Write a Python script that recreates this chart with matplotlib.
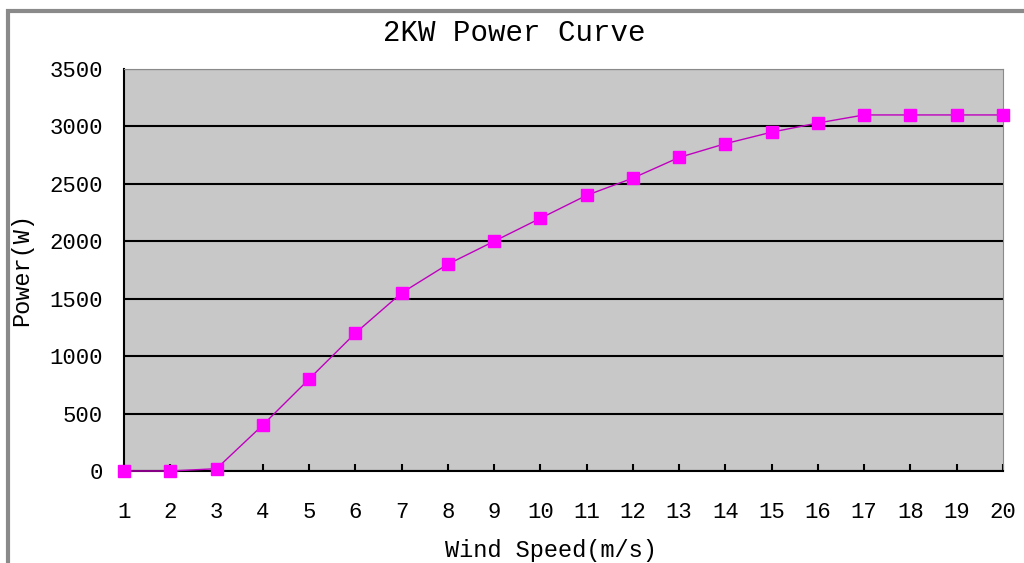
import matplotlib
matplotlib.use("Agg")
import matplotlib.pyplot as plt
from matplotlib.patches import Rectangle

# wind speed (m/s) and power output (W)
wind_speed = [1, 2, 3, 4, 5, 6, 7, 8, 9, 10, 11, 12, 13, 14, 15, 16, 17, 18, 19, 20]
power = [0, 0, 20, 400, 800, 1200, 1550, 1800, 2000, 2200, 2400, 2550, 2730, 2850,
         2950, 3030, 3100, 3100, 3100, 3100]
y_ticks = [0, 500, 1000, 1500, 2000, 2500, 3000, 3500]

FONT = "Liberation Mono"

fig = plt.figure(figsize=(10.24, 5.63), dpi=100)
fig.patch.set_facecolor("white")

# outer chart frame (runs off the right and bottom edges)
fig.patches.append(Rectangle((8 / 1024, -0.2), 1.2, 1 - 11 / 563 + 0.2,
                             transform=fig.transFigure, fill=False,
                             edgecolor="#8a8a8a", linewidth=3, zorder=0))

ax = fig.add_axes([124 / 1024, 1 - 471 / 563, (1003 - 124) / 1024, (471 - 69) / 563])
ax.set_facecolor("#c8c8c8")

ax.plot(wind_speed, power, color="#c000c0", linewidth=1, marker="s",
        markersize=8, markerfacecolor="#ff00ff", markeredgecolor="#ff00ff",
        clip_on=False, zorder=3)

ax.set_xlim(1, 20)
ax.set_ylim(0, 3500)
ax.set_xticks(wind_speed)
ax.set_yticks(y_ticks)
ax.yaxis.grid(True, color="black", linewidth=1.5)
ax.set_axisbelow(True)

ax.tick_params(axis="x", direction="in", length=5, width=1.5, pad=22,
               labelsize=16)
ax.tick_params(axis="y", length=0, pad=15, labelsize=16)
for lab in ax.get_xticklabels() + ax.get_yticklabels():
    lab.set_fontfamily(FONT)

ax.spines["left"].set_linewidth(1.5)
ax.spines["bottom"].set_linewidth(1.5)
ax.spines["top"].set_color("#8a8a8a")
ax.spines["right"].set_color("#8a8a8a")

fig.text(514 / 1024, 1 - 33 / 563, "2KW Power Curve", ha="center", va="center",
         fontsize=21, fontfamily=FONT)
fig.text(551 / 1024, 1 - 551 / 563, "Wind Speed(m/s)", ha="center", va="center",
         fontsize=17, fontfamily=FONT)
fig.text(22 / 1024, 1 - 270 / 563, "Power(W)", ha="center", va="center",
         rotation=90, fontsize=17, fontfamily=FONT)

fig.savefig("out.png", dpi=100)
